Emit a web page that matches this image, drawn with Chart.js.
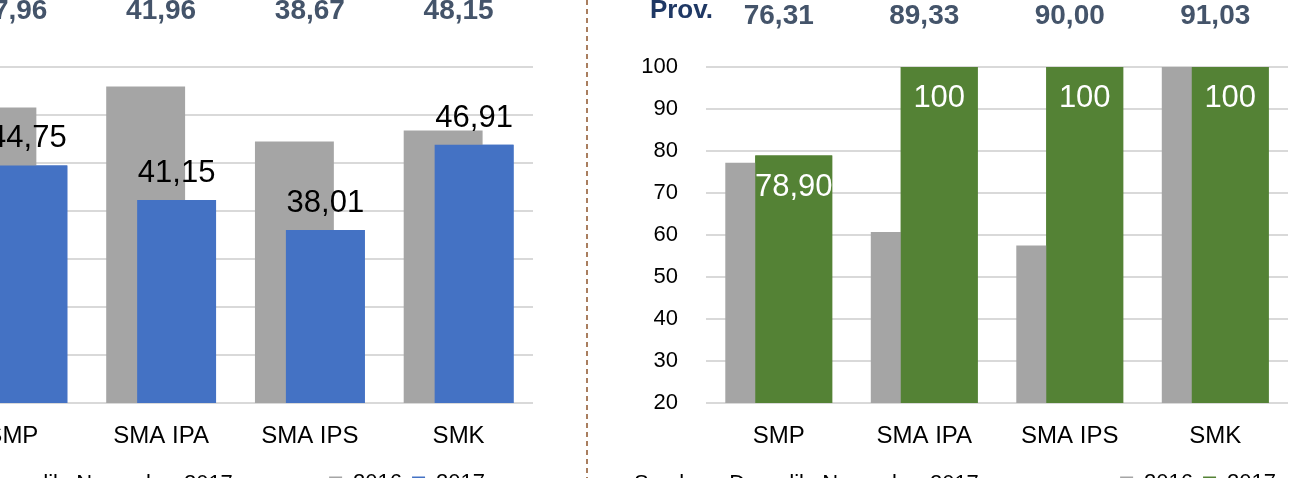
<!DOCTYPE html>
<html lang="id">
<head>
  <meta charset="UTF-8">
  <title>Nilai UN 2016 - 2017</title>
  <script src="https://cdn.jsdelivr.net/npm/chart.js@4"></script>
  <style>
    html, body {
      margin: 0;
      padding: 0;
      width: 1303px;
      height: 478px;
      overflow: hidden;
      background: #fff;
      font-family: 'Liberation Sans', Arial, sans-serif;
    }
    canvas {
      position: absolute;
      top: 0;
    }
    #leftChart { left: -62px; }
    #rightChart { left: 600px; }
    .divider {
      position: absolute;
      left: 586px;
      top: 0;
      width: 2px;
      height: 478px;
      background: repeating-linear-gradient(to bottom, #a97e5f 0 5px, transparent 5px 9px);
    }
    .source {
      position: absolute;
      top: 472px;
      font-size: 22px;
      line-height: 22px;
      color: #000;
      white-space: nowrap;
    }
  </style>
</head>
<body>
  <canvas id="leftChart" width="615" height="520"></canvas>
  <canvas id="rightChart" width="703" height="520"></canvas>
  <div class="divider"></div>
  <div class="source" style="left:-112px">Sumber : Dapodik, November 2017</div>
  <div class="source" style="left:634px">Sumber : Dapodik, November 2017</div>

  <script>
    const categories = ['SMP', 'SMA IPA', 'SMA IPS', 'SMK'];
    const years = ['2016', '2017'];

    // grafik kiri
    const left2016 = [50.77, 52.98, 47.25, 48.38];
    const left2017 = [44.75, 41.15, 38.01, 46.91];
    const leftProv = [47.96, 41.96, 38.67, 48.15];
    const leftAxis = { min: 20, max: 55, step: 5 };

    // grafik kanan
    const right2016 = [77.2, 60.7, 57.5, 100];
    const right2017 = [78.90, 100, 100, 100];
    const rightProv = [76.31, 89.33, 90.00, 91.03];
    const rightAxis = { min: 20, max: 100, step: 10 };

    const FONT = '"Liberation Sans", Arial, sans-serif';
    Chart.defaults.font.family = FONT;

    const fmt = v => Number.isInteger(v) ? String(v) : v.toFixed(2).replace('.', ',');

    const overlay = {
      id: 'overlay',
      afterLayout(chart, args, opts) {
        // geser legenda sedikit ke kiri
        if (opts.legendShift) {
          chart.legend.left -= opts.legendShift;
          chart.legend.right -= opts.legendShift;
        }
      },
      afterDatasetsDraw(chart, args, opts) {
        const ctx = chart.ctx;
        const area = chart.chartArea;
        const meta = chart.getDatasetMeta(1);

        // batang 2017 digambar ulang supaya menutupi batang abu-abu
        ctx.save();
        ctx.beginPath();
        ctx.rect(area.left, area.top, area.right - area.left, area.bottom - area.top);
        ctx.clip();
        meta.data.forEach(bar => bar.draw(ctx));
        ctx.restore();

        ctx.save();
        ctx.textAlign = 'center';
        ctx.textBaseline = 'alphabetic';
        ctx.font = '31px ' + FONT;
        ctx.fillStyle = opts.labelColor;
        meta.data.forEach((bar, i) => {
          const y = opts.inside ? bar.y + 40 : bar.y - 18;
          ctx.fillText(fmt(chart.data.datasets[1].data[i]), bar.x, y);
        });

        const xs = chart.scales.x;
        ctx.font = 'bold 28px ' + FONT;
        ctx.fillStyle = '#44546a';
        opts.prov.forEach((v, i) => {
          ctx.fillText(v.toFixed(2).replace('.', ','), xs.getPixelForValue(i), opts.provY);
        });
        if (opts.provLabel) {
          ctx.textAlign = 'right';
          ctx.font = 'bold 26px ' + FONT;
          ctx.fillStyle = '#1f3864';
          ctx.fillText(opts.provLabel, area.left + 7, 18);
        }
        ctx.restore();
      }
    };

    function makeChart(id, prev, curr, prov, axis, color, o) {
      return new Chart(document.getElementById(id), {
        type: 'bar',
        data: {
          labels: categories,
          datasets: [
            { label: years[0], data: prev, backgroundColor: '#a5a5a5' },
            { label: years[1], data: curr, backgroundColor: color }
          ]
        },
        options: {
          responsive: false,
          animation: false,
          layout: { padding: { top: 67, right: o.padRight, bottom: 16, left: 0 } },
          datasets: {
            bar: { categoryPercentage: o.catPct, barPercentage: o.barPct, borderWidth: 0 }
          },
          scales: {
            x: {
              grid: { display: false },
              border: { display: false },
              ticks: { color: '#000', font: { size: 24 }, padding: 11 },
              afterFit: s => { s.height = 59; }
            },
            y: {
              min: axis.min,
              max: axis.max,
              ticks: { stepSize: axis.step, display: o.showTicks, color: '#000', font: { size: 22 }, padding: 28 },
              grid: { color: '#d9d9d9', lineWidth: 2, drawTicks: false },
              border: { display: false },
              afterFit: s => { s.width = o.axisWidth; }
            }
          },
          plugins: {
            legend: {
              position: 'bottom',
              align: 'end',
              labels: { color: '#000', font: { size: 22 }, boxWidth: 13, boxHeight: 13, padding: 10 }
            },
            tooltip: { enabled: false },
            overlay: {
              inside: o.inside,
              labelColor: o.labelColor,
              prov: prov,
              provY: o.provY,
              provLabel: o.provLabel,
              legendShift: o.legendShift
            }
          }
        },
        plugins: [overlay]
      });
    }

    makeChart('leftChart', left2016, left2017, leftProv, leftAxis, '#4472c4', {
      padRight: 20, catPct: 0.416, barPct: 2.55, showTicks: false, axisWidth: 0,
      inside: false, labelColor: '#000', provY: 19, provLabel: null, legendShift: 38
    });

    makeChart('rightChart', right2016, right2017, rightProv, rightAxis, '#548235', {
      padRight: 15, catPct: 0.412, barPct: 2.567, showTicks: true, axisWidth: 106,
      inside: true, labelColor: '#fff', provY: 24, provLabel: 'Prov.', legendShift: 2
    });
  </script>
</body>
</html>
